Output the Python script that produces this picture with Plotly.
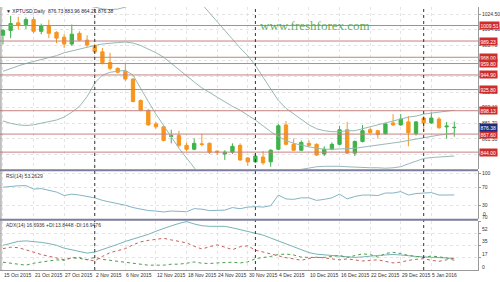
import datetime as dt
import plotly.graph_objects as go

# ---------------- data ----------------
DATES = ["2015-10-15","2015-10-16","2015-10-19","2015-10-20","2015-10-21","2015-10-22","2015-10-23",
         "2015-10-26","2015-10-27","2015-10-28","2015-10-29","2015-10-30","2015-11-02","2015-11-03",
         "2015-11-04","2015-11-05","2015-11-06","2015-11-09","2015-11-10","2015-11-11","2015-11-12",
         "2015-11-13","2015-11-16","2015-11-17","2015-11-18","2015-11-19","2015-11-20","2015-11-23",
         "2015-11-24","2015-11-25","2015-11-26","2015-11-27","2015-11-30","2015-12-01","2015-12-02",
         "2015-12-03","2015-12-04","2015-12-07","2015-12-08","2015-12-09","2015-12-10","2015-12-11",
         "2015-12-14","2015-12-15","2015-12-16","2015-12-17","2015-12-18","2015-12-21","2015-12-22",
         "2015-12-23","2015-12-24","2015-12-28","2015-12-29","2015-12-30","2015-12-31","2016-01-04",
         "2016-01-05","2016-01-06","2016-01-07","2016-01-08"]

OPEN = [996.8,1003.1,1013.0,1010.8,1017.2,1001.9,1009.5,1000.6,994.2,985.3,999.3,990.4,982.8,975.1,
        961.1,953.5,949.7,939.5,911.5,898.7,880.9,877.1,864.4,865.6,852.9,847.8,854.8,855.5,845.3,
        841.6,844.0,852.9,836.4,831.3,837.6,831.3,847.8,879.6,854.2,846.5,855.5,854.2,841.6,847.8,
        854.2,873.3,842.7,858.0,873.3,872.0,868.2,882.2,879.6,883.5,868.2,888.6,882.2,887.3,877.0,876.0]
HIGH = [1005.0,1022.2,1021.0,1020.0,1021.0,1012.0,1017.0,1002.0,998.0,1010.8,1002.0,996.8,985.3,980.2,
        973.9,954.8,960.0,940.5,913.0,900.0,883.5,878.4,873.3,872.0,856.7,861.8,868.2,856.7,846.5,
        846.5,855.5,855.5,837.6,842.7,845.3,847.8,880.9,884.7,861.8,859.3,859.3,855.5,851.6,856.7,
        878.4,883.5,859.3,879.6,875.8,873.3,882.2,893.7,893.7,891.1,884.7,891.1,896.2,889.8,883.5,883.96]
LOW = [985.0,993.0,1004.4,1005.0,999.3,998.0,993.0,986.6,980.2,982.8,989.0,981.5,973.9,958.6,
       951.0,947.1,936.9,908.9,897.5,878.4,874.6,858.0,855.5,850.4,845.3,846.5,851.6,841.6,840.2,
       833.8,841.6,832.6,826.2,830.0,827.5,824.9,846.5,852.9,845.3,845.3,851.6,838.9,838.9,846.5,
       852.9,841.6,838.9,856.7,868.2,861.8,866.9,878.4,878.4,851.6,865.6,870.7,880.9,874.6,861.8,864.21]
CLOSE = [1003.1,1012.1,1009.5,1017.2,1001.9,1009.5,999.3,993.0,985.3,998.1,990.4,984.0,975.1,961.1,
         953.5,948.4,939.5,910.2,898.7,879.6,877.1,859.3,865.6,852.9,847.8,855.5,854.2,844.0,844.0,
         844.0,851.6,833.8,831.3,838.9,830.0,846.5,878.4,854.2,846.5,856.7,852.9,840.2,847.8,854.2,
         873.3,842.7,858.0,872.0,869.4,866.9,880.9,879.6,887.3,869.4,883.5,882.2,888.6,875.8,878.0,876.38]

BB_UPPER = [1045,1046,1047,1046,1045,1044,1043,1042,1040,1039,1037,1035.5,1033.5,1031.2,1030.3,1031.0,
            1033.5,1038,1045,1050,1052,1052,1050,1048,1046,1043,1037.5,1026,1014.6,1003.1,991.1,980.2,
            970.0,957.3,942.0,926.8,911.5,901.3,893.7,886.0,879.6,874.6,872.0,870.7,870.7,872.0,872.0,
            874.6,877.1,879.6,882.2,884.7,887.3,889.8,891.1,893.7,895.0,896.2,897.5,898.8]
BB_MIDDLE = [949.7,953.5,956.7,959.9,962.4,965.0,967.5,970.1,973.9,976.4,979.0,981.5,983.4,985.3,986.6,
             987.2,987.9,986.6,983.4,979.0,973.9,968.1,959.9,951.0,943.3,935.7,928.0,921.7,915.3,909.0,
             903.8,898.8,892.4,886.0,878.4,870.7,864.4,859.3,855.5,852.9,851.0,849.1,847.8,847.8,847.8,
             848.5,849.1,850.4,851.6,852.9,854.2,855.5,857.4,859.3,861.2,863.1,865.0,866.3,867.6,868.9]
BB_LOWER = [884.8,881.6,879.7,878.8,879.7,881.6,883.5,886.0,889.8,896.2,903.8,916.6,934.4,944.6,948.4,
            949.7,951.0,944.6,926.8,910.2,893.7,878.4,863.1,849.1,836.4,823.6,811,805,800,798,797,796,
            796,797,799,805,812,819.2,819.8,821.7,823.6,824.9,825.5,825.8,825.5,824.9,824.3,823.6,823.6,
            823.6,823.0,823.6,824.9,828.7,832.6,835.7,837.0,837.6,838.5,838.9]

RSI = [70,72,73,73.5,66,67,64,59.5,52,55,53,50,47,41.5,38.5,35,31,26,22.6,19.5,18.5,16.5,18.5,17.5,17,
       23.7,22.5,19.5,19.5,20.5,26,23.5,27,28,27,30,53,44.7,43.7,47,47,41.5,43.7,47,55,44.7,50,53,53,
       52,57.4,57.4,60.5,53,56.3,57.4,58.4,53,53,53.26]
ADX = [35.3,38.1,40.9,41.6,40.9,39.5,37.8,35.3,31.2,29.1,26.3,24.2,25.6,29.1,32.6,36.7,40.9,44.3,47.1,
       50.9,55.4,59.6,63.1,66.5,69.3,65.8,63.3,62.4,62.4,62.4,60.3,57.5,55.4,52.9,49.9,45.7,41.6,37.4,
       32.6,28.4,24.9,22.6,21.7,20.8,19.4,18.4,18.0,18.7,20.1,20.8,21.5,22.2,21.5,20.1,19.4,18.7,18.0,
       17.6,17.0,16.69]
PLUS_DI = [11.1,9.7,8.3,6.9,9.7,11.1,13.1,14.5,13.8,17.6,16.6,14.8,18.0,15.2,13.8,12.4,11.1,9.7,8.3,6.9,
           6.9,6.9,8.3,8.3,9.7,11.5,9.7,9.3,10.1,11.1,11.1,10.1,11.5,16.2,17.3,19.4,22.1,22.8,21.5,18.4,
           18.0,17.6,18.0,19.4,20.8,18.0,20.8,23.1,22.1,18.4,23.5,25.3,23.5,20.8,19.4,17.6,20.1,18.4,17.3,
           13.84]
MINUS_DI = [30.5,32.6,31.9,29.1,25.6,22.1,19.4,16.6,14.8,17.3,18.0,14.5,13.1,19.4,24.9,27.7,30.5,36.0,
            40.2,42.3,44.3,45.3,43.0,40.9,38.8,33.9,30.1,33.2,36.0,32.6,29.1,33.2,34.6,28.4,25.6,23.1,
            20.1,17.6,15.9,13.8,16.6,18.4,17.3,16.2,14.5,15.9,14.5,12.9,13.8,14.5,12.4,10.1,11.1,13.8,
            15.2,16.2,13.8,12.4,14.5,16.95]

LEVELS = [1009.51, 989.23, 968.00, 959.80, 944.90, 925.80, 898.13, 867.60, 844.00]
PRICE_TICKS = [1024.50, 1004.10, 983.70, 963.30, 942.90, 922.50, 902.10, 881.70, 861.30, 840.90, 820.50]
RSI_TICKS = [100, 70, 30]
ADX_TICKS = [70, 52.5, 35, 17.5]
ADX_TICK_TEXT = ["70", "52", "35", "17"]
LAST_PRICE = 876.38
TITLE = "\u25BC XPTUSD,Daily  876.73 883.96 864.21 876.38"
RSI_TITLE = "RSI(14) 53.2629"
ADX_TITLE = "ADX(14) 16.6936 +DI:13.8448 -DI:16.9476"

# ---------------- geometry ----------------
W, H = 500, 282
ML, MR, MT, MB = 0, 17, 0, 12
PH = H - MT - MB            # plot height in px


def py(px):                 # pixel row (from top of plot) -> paper y
    return 1 - px / PH


X = list(range(len(DATES)))
date_objs = [dt.date.fromisoformat(d) for d in DATES]
label_idx = list(range(0, len(DATES), 4))
sep_idx = [i for i in range(1, len(DATES)) if date_objs[i].month != date_objs[i - 1].month]

ORANGE = "#f6961f"
GREEN = "#3fb34a"
BAND = "#97b9b4"
LEVEL = "#c48282"
GRID = "#e4e4e4"
SEPC = "#7d7d9d"
FONT = "Liberation Sans"

fig = go.Figure()

fig.add_trace(go.Candlestick(
    x=X, open=OPEN, high=HIGH, low=LOW, close=CLOSE,
    increasing=dict(line=dict(color=GREEN, width=1), fillcolor=GREEN),
    decreasing=dict(line=dict(color=ORANGE, width=1), fillcolor=ORANGE),
    whiskerwidth=0, xaxis="x", yaxis="y", hoverinfo="skip", showlegend=False))

for band in (BB_UPPER, BB_MIDDLE, BB_LOWER):
    fig.add_trace(go.Scatter(x=X, y=band, mode="lines", line=dict(color=BAND, width=1),
                             xaxis="x", yaxis="y", hoverinfo="skip", showlegend=False))

fig.add_trace(go.Scatter(x=X, y=RSI, mode="lines", line=dict(color="#84b4c4", width=1),
                         xaxis="x", yaxis="y2", hoverinfo="skip", showlegend=False))

fig.add_trace(go.Scatter(x=X, y=ADX, mode="lines", line=dict(color="#79b3b3", width=1),
                         xaxis="x", yaxis="y3", hoverinfo="skip", showlegend=False))
fig.add_trace(go.Scatter(x=X, y=PLUS_DI, mode="lines", line=dict(color="#4a9e4a", width=1, dash="dot"),
                         xaxis="x", yaxis="y3", hoverinfo="skip", showlegend=False))
fig.add_trace(go.Scatter(x=X, y=MINUS_DI, mode="lines", line=dict(color="#c4625c", width=1, dash="dot"),
                         xaxis="x", yaxis="y3", hoverinfo="skip", showlegend=False))

shapes = []
for lv in LEVELS:
    shapes.append(dict(type="line", xref="paper", yref="y", x0=0, x1=1, y0=lv, y1=lv,
                       line=dict(color=LEVEL, width=1), layer="above"))
for i in sep_idx:
    shapes.append(dict(type="line", xref="x", yref="paper", x0=i, x1=i, y0=0, y1=1,
                       line=dict(color="#333333", width=1, dash="dot"), layer="above"))
for a, b in ((166.5, 168.5), (217.5, 219.5)):
    shapes.append(dict(type="rect", xref="paper", yref="paper", x0=0, x1=1, y0=py(b), y1=py(a),
                       fillcolor=SEPC, line=dict(width=0), layer="above"))
shapes.append(dict(type="line", xref="paper", yref="paper", x0=0.002, x1=0.002, y0=0, y1=1,
                   line=dict(color="#888888", width=1)))

annotations = []
small = dict(family=FONT, size=5, color="#333333")
for i in label_idx:
    d = date_objs[i]
    annotations.append(dict(x=i, y=py(275), xref="x", yref="paper", xanchor="left", yanchor="middle",
                            text=f"{d.day} {d.strftime('%b %Y')}", showarrow=False,
                            font=small, xshift=-1))
for lv in LEVELS:
    annotations.append(dict(x=1, y=lv, xref="paper", yref="y", xanchor="left", yanchor="middle",
                            text=f"{lv:.2f}", showarrow=False, bgcolor="#cf2c2c",
                            font=dict(family=FONT, size=5, color="white"), borderpad=0.5, xshift=1))
annotations.append(dict(x=1, y=LAST_PRICE, xref="paper", yref="y", xanchor="left", yanchor="middle",
                        text=f"{LAST_PRICE:.2f}", showarrow=False, bgcolor="#1f2a7a",
                        font=dict(family=FONT, size=5, color="white"), borderpad=0.5, xshift=1))
annotations.append(dict(x=1, y=py(267), xref="paper", yref="paper", xanchor="left", yanchor="middle",
                        text="0", showarrow=False, font=small, xshift=2))
annotations.append(dict(x=1, y=py(213), xref="paper", yref="paper", xanchor="left", yanchor="middle",
                        text="0", showarrow=False, font=small, xshift=3))
annotations.append(dict(x=0.008, y=py(4.5), xref="paper", yref="paper", xanchor="left", yanchor="middle",
                        text=TITLE, showarrow=False, font=dict(family=FONT, size=5, color="#222244")))
annotations.append(dict(x=0.008, y=py(173), xref="paper", yref="paper", xanchor="left", yanchor="middle",
                        text=RSI_TITLE, showarrow=False, font=dict(family=FONT, size=5, color="#333333")))
annotations.append(dict(x=0.008, y=py(223.5), xref="paper", yref="paper", xanchor="left",
                        yanchor="middle", text=ADX_TITLE, showarrow=False,
                        font=dict(family=FONT, size=5, color="#333333")))
annotations.append(dict(x=318 / 483, y=py(18.5), xref="paper", yref="paper", xanchor="center",
                        yanchor="middle", text="www.freshforex.com", showarrow=False,
                        font=dict(family="Liberation Serif", size=13, color="rgba(70,160,70,0.85)")))

yax_common = dict(side="right", showline=True, linecolor="#999999", linewidth=1, ticks="outside",
                  ticklen=2, tickcolor="#999999", tickfont=small, showgrid=True, gridcolor=GRID,
                  griddash="dot", zeroline=False, fixedrange=True)

fig.update_layout(
    width=W, height=H, margin=dict(l=ML, r=MR, t=MT, b=MB),
    paper_bgcolor="white", plot_bgcolor="white", showlegend=False, boxgap=0.38,
    xaxis=dict(domain=[0, 1], anchor="y3", range=[-0.388, 62.1], showticklabels=False,
               tickvals=label_idx, showgrid=True, gridcolor=GRID, griddash="dot", zeroline=False,
               showline=True, linecolor="#999999", rangeslider=dict(visible=False), ticks=""),
    yaxis=dict(domain=[py(166.5), py(0)], range=[1033.7 - 1.2731 * 166.5, 1033.7],
               tickvals=PRICE_TICKS, ticktext=[f"{t:.2f}" for t in PRICE_TICKS], **yax_common),
    yaxis2=dict(domain=[py(217.5), py(168.5)],
                range=[70 - (217.5 - 185) / 0.475, 70 + (185 - 168.5) / 0.475],
                tickvals=RSI_TICKS, ticktext=[str(t) for t in RSI_TICKS], anchor="x", **yax_common),
    yaxis3=dict(domain=[0, py(219.5)], range=[0, 70.3], tickvals=ADX_TICKS, ticktext=ADX_TICK_TEXT,
                anchor="x", ticklabelshift=-4, **yax_common),
    shapes=shapes, annotations=annotations,
)

fig.write_html("out.html")
